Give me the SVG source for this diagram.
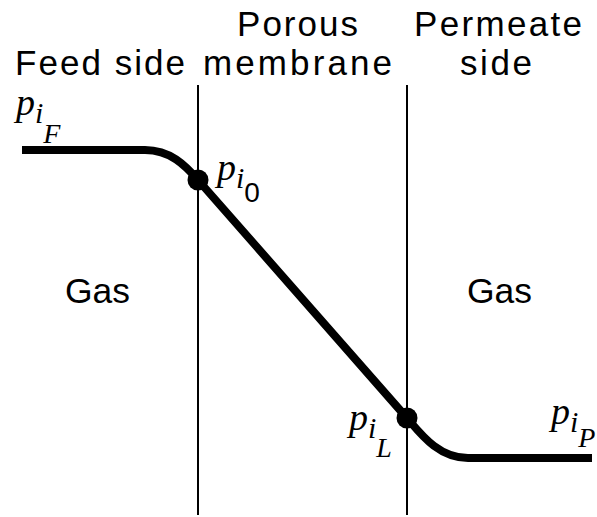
<svg xmlns="http://www.w3.org/2000/svg" width="597" height="517" viewBox="0 0 597 517">
<style>
.lbl{font-family:"Liberation Sans",Arial,sans-serif;font-size:35px;fill:#000}
.p{font-family:"Liberation Serif","Times New Roman",serif;font-style:italic;font-size:38px;fill:#000}
.s1{font-size:30px}
.s2{font-size:28px}
.wall{stroke:#000;stroke-width:2;fill:none}
.curve{stroke:#000;stroke-width:8;fill:none}
</style>
<rect width="597" height="517" fill="#fff"/>
<g id="walls">
<line class="wall" x1="198" y1="85" x2="198" y2="515"/>
<line class="wall" x1="407" y1="85" x2="407" y2="515"/>
</g>
<g id="headers">
<text class="lbl" x="15" y="75" textLength="170" lengthAdjust="spacing">Feed side</text>
<text class="lbl" x="237" y="36" textLength="121" lengthAdjust="spacing">Porous</text>
<text class="lbl" x="203" y="75" textLength="189" lengthAdjust="spacing">membrane</text>
<text class="lbl" x="414" y="36" textLength="168" lengthAdjust="spacing">Permeate</text>
<text class="lbl" x="460" y="75" textLength="72" lengthAdjust="spacing">side</text>
<text class="lbl" x="65" y="303" textLength="65" lengthAdjust="spacingAndGlyphs">Gas</text>
<text class="lbl" x="467" y="303" textLength="65" lengthAdjust="spacingAndGlyphs">Gas</text>
</g>
<g id="connectors">
<path class="curve" d="M22,150 H145 C170,150 185,165 198,180 L407,418 C420,433 438,458 468,458 H592"/>
</g>
<g id="node-p0"><circle cx="198" cy="180" r="10.5"/></g>
<g id="node-pL"><circle cx="407" cy="418" r="10.5"/></g>
<g id="labels">
<text class="p" x="16" y="115">p<tspan class="s1" dy="8">i</tspan><tspan class="s2" dy="20">F</tspan></text>
<text class="p" x="217" y="180">p<tspan class="s1" dy="8">i</tspan><tspan class="s2" dy="14" font-style="normal" font-family="Liberation Sans,sans-serif">0</tspan></text>
<text class="p" x="349" y="430">p<tspan class="s1" dy="8">i</tspan><tspan class="s2" dy="19">L</tspan></text>
<text class="p" x="551" y="424">p<tspan class="s1" dy="8">i</tspan><tspan class="s2" dy="15">P</tspan></text>
</g>
</svg>
